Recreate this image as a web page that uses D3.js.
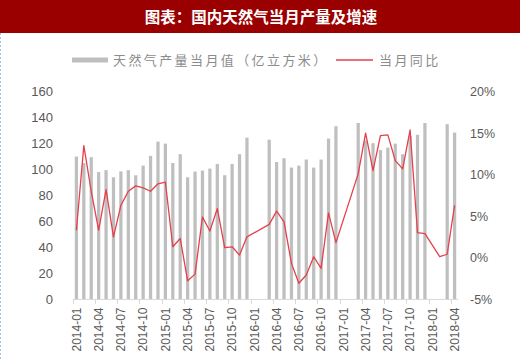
<!DOCTYPE html>
<html><head><meta charset="utf-8">
<script src="https://cdn.jsdelivr.net/npm/d3@7/dist/d3.min.js"></script>
<style>html,body{margin:0;padding:0;background:#fff;}svg{display:block;}</style>
</head><body>
<script>
const months = [];
for (let y = 2014; y <= 2018; y++) for (let m = 1; m <= 12; m++) { if (y === 2018 && m > 4) break; months.push(y + "-" + String(m).padStart(2, "0")); }

const production = [
  110, 105, 109.5, 98, 99.5, 94, 98.5, 99.5, 95.5, 103, 110.5, 121.5,
  120, 105, 111.8, 94, 98.4, 99.2, 100.7, 104.3, 95.6, 104.3, 111.8, 124.6,
  null, null, 123, 105.8, 108.7, 101.5, 103, 107.7, 101.5, 107.7, 123.9, 133.4,
  null, null, 135.9, 122.5, 120.3, 115, 116.9, 120, 111.8, 126, 126.8, 135.9,
  null, null, 135, 128.5
];
const growth = [
  3.3, 13.5, 8.0, 3.3, 8.2, 2.5, 6.3, 8.0, 8.65, 8.4, 8.0, 8.9,
  9.1, 1.3, 2.3, -2.8, -2.0, 4.9, 3.2, 5.9, 1.2, 1.3, 0.3, 2.5,
  null, null, 4.0, 5.6, 4.3, -0.7, -3.1, -2.1, 0.1, -1.3, 5.4, 1.8,
  null, null, 10.1, 15.0, 10.5, 14.7, 14.8, 11.7, 10.7, 15.4, 3.0, 2.9,
  null, 0.1, 0.4, 6.3
];
const leftTicks = [0, 20, 40, 60, 80, 100, 120, 140, 160];
const rightTicks = [-5, 0, 5, 10, 15, 20];
const title = "图表：国内天然气当月产量及增速";
const legendBar = "天然气产量当月值（亿立方米）";
const legendLine = "当月同比";

const W = 520, H = 359;
const svg = d3.select("body").append("svg").attr("width", W).attr("height", H);

// title bar
svg.append("rect").attr("x", 0).attr("y", 0).attr("width", W).attr("height", 33).attr("fill", "#9a0000");
svg.append("text").attr("x", 261).attr("y", 17).attr("dy", "0.36em").attr("text-anchor", "middle")
  .attr("fill", "#fff").attr("font-family", "'Noto Sans CJK SC'").attr("font-weight", "bold")
  .attr("font-size", 15.5).text(title);
svg.append("line").attr("x1", 0.5).attr("x2", 0.5).attr("y1", 33).attr("y2", H)
  .attr("stroke", "#9ec5f0").attr("stroke-dasharray", "2,2");

const x = d3.scaleBand().domain(months).range([72.7, 458.3]).paddingInner(0.56).paddingOuter(0.28);
const step = x.step();
const yL = d3.scaleLinear().domain([0, 160]).range([299, 91.8]);
const yR = d3.scaleLinear().domain([-5, 20]).range([299, 91.8]);

// bars
svg.append("g").selectAll("rect").data(months.map((m, i) => ({ m, v: production[i] })).filter(d => d.v != null))
  .join("rect").attr("x", d => x(d.m)).attr("width", x.bandwidth())
  .attr("y", d => yL(d.v)).attr("height", d => yL(0) - yL(d.v)).attr("fill", "#bfbfbf");

// line
const lineData = months.map((m, i) => ({ m, v: growth[i] })).filter(d => d.v != null);
svg.append("path").datum(lineData).attr("fill", "none").attr("stroke", "#e5404b").attr("stroke-width", 1.3)
  .attr("stroke-linejoin", "round")
  .attr("d", d3.line().x(d => x(d.m) + x.bandwidth() / 2).y(d => yR(d.v)));

// x axis
const xStart = 72.7;
const axisG = svg.append("g");
axisG.append("line").attr("x1", xStart).attr("x2", 458.3).attr("y1", 299.5).attr("y2", 299.5).attr("stroke", "#d9d9d9");
const tickMonths = months.filter((m, i) => i % 3 === 0);
axisG.selectAll("line.t").data(tickMonths).join("line").attr("class", "t")
  .attr("x1", d => Math.round(x(d) - (step - x.bandwidth()) / 2) + 0.5)
  .attr("x2", d => Math.round(x(d) - (step - x.bandwidth()) / 2) + 0.5)
  .attr("y1", 299.5).attr("y2", 304).attr("stroke", "#d9d9d9");
axisG.selectAll("text").data(tickMonths).join("text")
  .attr("transform", d => `translate(${x(d) + x.bandwidth() / 2},307.5) rotate(-90)`)
  .attr("text-anchor", "end").attr("dy", "0.36em")
  .attr("font-family", "'Liberation Sans', Arial, sans-serif").attr("font-size", 12).attr("fill", "#595959")
  .text(d => d);

// left axis labels
svg.append("g").selectAll("text").data(leftTicks).join("text")
  .attr("x", 53).attr("y", d => yL(d)).attr("dy", "0.36em").attr("text-anchor", "end")
  .attr("font-family", "'Liberation Sans', Arial, sans-serif").attr("font-size", 13).attr("fill", "#595959")
  .text(d => d);
// right axis labels
svg.append("g").selectAll("text").data(rightTicks).join("text")
  .attr("x", 470).attr("y", d => yR(d)).attr("dy", "0.36em").attr("text-anchor", "start")
  .attr("font-family", "'Liberation Sans', Arial, sans-serif").attr("font-size", 12.5).attr("fill", "#595959")
  .text(d => d + "%");

// legend
svg.append("rect").attr("x", 72).attr("y", 57.5).attr("width", 36).attr("height", 5).attr("fill", "#bfbfbf");
svg.append("text").attr("x", 113).attr("y", 60).attr("dy", "0.36em")
  .attr("font-family", "'Noto Sans CJK SC'").attr("font-size", 13).attr("letter-spacing", 2.4)
  .attr("fill", "#8c8c8c").text(legendBar);
svg.append("line").attr("x1", 336).attr("x2", 373).attr("y1", 60).attr("y2", 60)
  .attr("stroke", "#e5404b").attr("stroke-width", 1.3);
svg.append("text").attr("x", 379).attr("y", 60).attr("dy", "0.36em")
  .attr("font-family", "'Noto Sans CJK SC'").attr("font-size", 13).attr("letter-spacing", 2.4)
  .attr("fill", "#8c8c8c").text(legendLine);
</script>
</body></html>
